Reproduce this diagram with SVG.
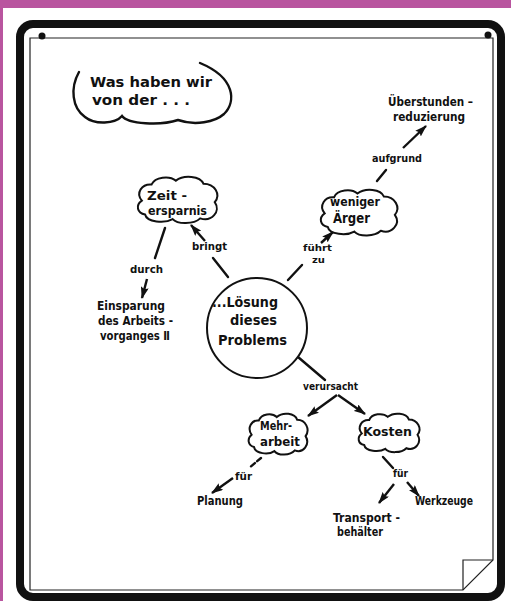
<svg xmlns="http://www.w3.org/2000/svg" xmlns:xlink="http://www.w3.org/1999/xlink" width="511" height="601" viewBox="0 0 511 601">
<style>
  text { font-family: "DejaVu Sans Condensed", "DejaVu Sans", sans-serif; font-weight: bold; fill: #111; }
  .ln { stroke: #111; stroke-width: 2.4; fill: none; stroke-linecap: round; }
  .arr { stroke: #111; stroke-width: 2.4; fill: none; marker-end: url(#ah); }
  .cloud { fill: #fff; stroke: #111; stroke-width: 2; vector-effect: non-scaling-stroke; }
  .s9 { font-size: 9.5px; }
  .s10 { font-size: 10px; }
  .s11 { font-size: 11px; }
  .s12 { font-size: 12px; }
  .s14 { font-size: 13.5px; }
  .s15 { font-size: 14.5px; }
</style>
<defs>
  <marker id="ah" viewBox="0 0 12 8" refX="11" refY="4" markerWidth="12" markerHeight="8" markerUnits="userSpaceOnUse" orient="auto">
    <path d="M0,0 L12,4 L0,8 L2,4 Z" fill="#111"/>
  </marker>
  <path id="cloudShape" class="cloud" d="M 6,32 C -2,22 6,10 18,11 C 22,1 40,-1 48,6 C 58,-2 78,0 82,10 C 96,10 104,24 96,34 C 104,46 92,60 78,55 C 70,63 50,63 44,56 C 34,62 12,60 10,50 C 0,48 -2,38 6,32 Z"/>
</defs>

<!-- background -->
<rect x="0" y="0" width="511" height="601" fill="#ffffff"/>
<rect x="0" y="0" width="511" height="8" fill="#b9559f"/>
<rect x="0" y="0" width="3" height="601" fill="#b9559f"/>

<!-- board frame -->
<g id="frame">
  <rect x="20" y="24" width="481" height="573" rx="13" fill="none" stroke="#111" stroke-width="8"/>
  <path d="M 30,38 H 493 V 560 L 463,590 H 30 Z" fill="none" stroke="#222" stroke-width="1.2"/>
  <path d="M 463,590 V 560 H 493" fill="none" stroke="#222" stroke-width="1.2"/>
  <circle cx="42" cy="36" r="3.5" fill="#111"/>
  <circle cx="488" cy="35" r="3.5" fill="#111"/>
</g>

<!-- connectors -->
<g id="connectors">
  <line class="arr" x1="403" y1="148" x2="426" y2="126"/>
  <line class="ln" x1="377" y1="181" x2="386" y2="170"/>
  <line class="ln" x1="288" y1="280" x2="302" y2="265"/>
  <line class="arr" x1="321" y1="243" x2="333" y2="232"/>
  <line class="ln" x1="228" y1="277" x2="213" y2="258"/>
  <line class="arr" x1="205" y1="241" x2="191" y2="225"/>
  <line class="ln" x1="165" y1="228" x2="155" y2="258"/>
  <line class="arr" x1="147" y1="279" x2="142" y2="298"/>
  <line class="ln" x1="298" y1="357" x2="325" y2="380"/>
  <line class="arr" x1="337" y1="395" x2="308" y2="416"/>
  <line class="arr" x1="338" y1="395" x2="365" y2="414"/>
  <line class="ln" x1="261" y1="458" x2="249" y2="468" stroke-dasharray="5 3"/>
  <line class="arr" x1="233" y1="478" x2="212" y2="493"/>
  <line class="ln" x1="383" y1="457" x2="393" y2="468"/>
  <line class="arr" x1="394" y1="484" x2="379" y2="503"/>
  <line class="arr" x1="407" y1="482" x2="419" y2="496"/>
</g>

<!-- speech bubble -->
<g id="n-title">
  <path class="ln" stroke-width="2" d="M 79,72 C 70,88 72,108 85,117 C 95,125 115,124 122,116 C 128,124 160,126 178,120 C 195,126 215,122 224,114 C 236,102 236,78 200,63"/>
  <text class="s15" x="90" y="87" textLength="122" lengthAdjust="spacingAndGlyphs">Was haben wir</text>
  <text class="s15" x="92" y="105" textLength="98" lengthAdjust="spacingAndGlyphs">von der . . .</text>
</g>

<g id="n-ueberstunden">
  <text class="s12" x="388" y="106" textLength="85" lengthAdjust="spacingAndGlyphs">Überstunden –</text>
  <text class="s12" x="393" y="121" textLength="72" lengthAdjust="spacingAndGlyphs">reduzierung</text>
</g>

<g id="l-aufgrund">
  <text class="s11" x="372" y="162" textLength="50" lengthAdjust="spacingAndGlyphs">aufgrund</text>
</g>

<g id="n-aerger">
  <use xlink:href="#cloudShape" transform="translate(320,189) scale(0.78,0.76)"/>
  <text class="s12" x="330" y="206" textLength="50" lengthAdjust="spacingAndGlyphs">weniger</text>
  <text class="s14" x="333" y="223" textLength="37" lengthAdjust="spacingAndGlyphs">Ärger</text>
</g>

<g id="l-fuehrt">
  <text class="s9" x="303" y="251" textLength="29" lengthAdjust="spacingAndGlyphs">führt</text>
  <text class="s9" x="312" y="263" textLength="13" lengthAdjust="spacingAndGlyphs">zu</text>
</g>

<g id="n-zeit">
  <use xlink:href="#cloudShape" transform="translate(137,176) scale(0.81,0.77)"/>
  <text class="s12" x="147" y="200" textLength="40" lengthAdjust="spacingAndGlyphs">Zeit -</text>
  <text class="s12" x="148" y="215" textLength="59" lengthAdjust="spacingAndGlyphs">ersparnis</text>
</g>

<g id="l-bringt">
  <text class="s11" x="192" y="250" textLength="35" lengthAdjust="spacingAndGlyphs">bringt</text>
</g>

<g id="l-durch">
  <text class="s11" x="130" y="273" textLength="33" lengthAdjust="spacingAndGlyphs">durch</text>
</g>

<g id="n-einsparung">
  <text class="s12" x="97" y="310" textLength="68" lengthAdjust="spacingAndGlyphs">Einsparung</text>
  <text class="s12" x="98" y="325" textLength="75" lengthAdjust="spacingAndGlyphs">des Arbeits -</text>
  <text class="s12" x="100" y="340" textLength="70" lengthAdjust="spacingAndGlyphs">vorganges Ⅱ</text>
</g>

<g id="n-loesung">
  <circle cx="257" cy="328" r="50" fill="#fff" stroke="#111" stroke-width="2"/>
  <text class="s14" x="212" y="307" textLength="66" lengthAdjust="spacingAndGlyphs">...Lösung</text>
  <text class="s14" x="230" y="325" textLength="47" lengthAdjust="spacingAndGlyphs">dieses</text>
  <text class="s14" x="218" y="345" textLength="69" lengthAdjust="spacingAndGlyphs">Problems</text>
</g>

<g id="l-verursacht">
  <text class="s10" x="303" y="390" textLength="55" lengthAdjust="spacingAndGlyphs">verursacht</text>
</g>

<g id="n-mehrarbeit">
  <use xlink:href="#cloudShape" transform="translate(248,413) scale(0.6,0.68)"/>
  <text class="s12" x="260" y="430" textLength="32" lengthAdjust="spacingAndGlyphs">Mehr-</text>
  <text class="s12" x="260" y="446" textLength="40" lengthAdjust="spacingAndGlyphs">arbeit</text>
</g>

<g id="n-kosten">
  <use xlink:href="#cloudShape" transform="translate(358,413) scale(0.62,0.64)"/>
  <text class="s12" x="363" y="436" textLength="49" lengthAdjust="spacingAndGlyphs">Kosten</text>
</g>

<g id="l-fuer1">
  <text class="s10" x="235" y="480" textLength="17" lengthAdjust="spacingAndGlyphs">für</text>
</g>

<g id="n-planung">
  <text class="s12" x="197" y="505" textLength="46" lengthAdjust="spacingAndGlyphs">Planung</text>
</g>

<g id="l-fuer2">
  <text class="s10" x="393" y="477" textLength="15" lengthAdjust="spacingAndGlyphs">für</text>
</g>

<g id="n-werkzeuge">
  <text class="s12" x="415" y="505" textLength="58" lengthAdjust="spacingAndGlyphs">Werkzeuge</text>
</g>

<g id="n-transport">
  <text class="s12" x="333" y="522" textLength="67" lengthAdjust="spacingAndGlyphs">Transport -</text>
  <text class="s12" x="337" y="536" textLength="46" lengthAdjust="spacingAndGlyphs">behälter</text>
</g>
</svg>
